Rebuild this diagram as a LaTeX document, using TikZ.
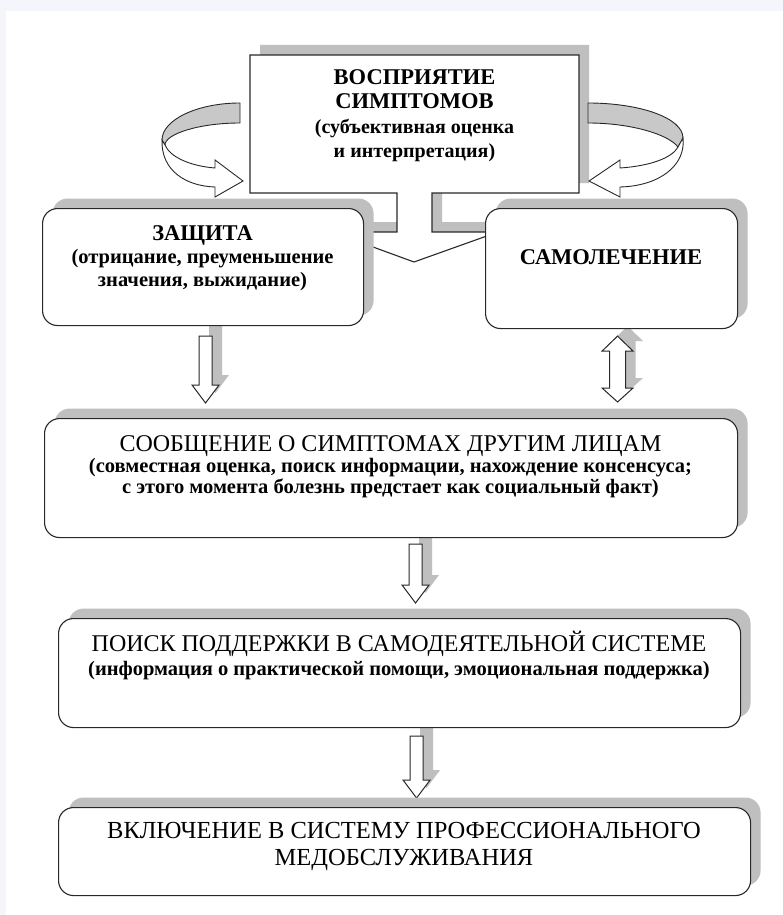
\documentclass[tikz,border=0pt]{standalone}
\usepackage{fontspec}
\setmainfont{Liberation Serif}
\usetikzlibrary{calc}
\definecolor{shadowgray}{RGB}{191,191,191}
\definecolor{ribbon}{RGB}{200,200,200}
\definecolor{edge}{RGB}{40,40,40}
\definecolor{margin}{RGB}{245,246,251}
\pgfdeclarelayer{bg}
\pgfdeclarelayer{back}
\pgfsetlayers{bg,back,main}
\tikzset{stage/.style={draw=edge,line width=1.1pt,fill=white,rounded corners=15pt,
           anchor=north west,inner sep=0pt,
           preaction={fill=shadowgray,draw=none,transform canvas={shift={(10pt,10pt)}}}},
         outline/.style={draw=edge,line width=1pt,fill=white},
         ribbonback/.style={draw=edge,line width=0.9pt,fill=ribbon},
         headtext/.style={anchor=north,align=center,inner sep=0pt,
           font=\bfseries\fontsize{20}{24.5}\selectfont},
         longtext/.style={anchor=north,align=center,inner sep=0pt,
           font=\bfseries\fontsize{20.5}{21}\selectfont}}
\newcommand{\bigcaps}{\fontsize{22.5}{24.5}\selectfont}
\newcommand{\titlefont}{\mdseries\fontsize{24}{24}\selectfont}
% hollow block arrow with its shadow, from #1 down to the tip #2
\newcommand{\hollowdown}[2]{%
  \fill[shadowgray] let \p1=(#1), \p2=(#2) in
    (\x1+3.5pt,\y1+10pt) -- (\x1+16.5pt,\y1+10pt) -- (\x1+16.5pt,\y2+28pt) -- (\x1+23.5pt,\y2+28pt)
    -- (\x2+10pt,\y2+10pt) -- (\x1-3.5pt,\y2+28pt) -- (\x1+3.5pt,\y2+28pt) -- cycle;
  \path[outline] let \p1=(#1), \p2=(#2) in
    (\x1-6.5pt,\y1) -- (\x1+6.5pt,\y1) -- (\x1+6.5pt,\y2+18pt) -- (\x1+13.5pt,\y2+18pt)
    -- (\x2,\y2) -- (\x1-13.5pt,\y2+18pt) -- (\x1-6.5pt,\y2+18pt) -- cycle;}
% the same with a head at both ends, tips #1 and #2
\newcommand{\hollowboth}[2]{%
  \fill[shadowgray] let \p1=(#1), \p2=(#2) in
    (\x1+10pt,\y1+10pt) -- (\x1+25.5pt,\y1-5pt) -- (\x1+18pt,\y1-5pt) -- (\x1+18pt,\y2+24pt)
    -- (\x1+25.5pt,\y2+24pt) -- (\x2+10pt,\y2+10pt) -- (\x1-5.5pt,\y2+24pt) -- (\x1+2pt,\y2+24pt)
    -- (\x1+2pt,\y1-5pt) -- (\x1-5.5pt,\y1-5pt) -- cycle;
  \path[outline] let \p1=(#1), \p2=(#2) in
    (\x1,\y1) -- (\x1+15.5pt,\y1-15pt) -- (\x1+8pt,\y1-15pt) -- (\x1+8pt,\y2+14pt)
    -- (\x1+15.5pt,\y2+14pt) -- (\x2,\y2) -- (\x1-15.5pt,\y2+14pt) -- (\x1-8pt,\y2+14pt)
    -- (\x1-8pt,\y1-15pt) -- (\x1-15.5pt,\y1-15pt) -- cycle;}

\begin{document}
\begin{tikzpicture}[x=1pt,y=-1pt]
  \useasboundingbox (0,0) rectangle (783,915);
  \begin{pgfonlayer}{bg}
    \fill[margin] (0,0) rectangle (783,915);
    \fill[white] (6,11) rectangle (783,915);
  \end{pgfonlayer}

  % the stages
  \node[stage,minimum width=321pt,minimum height=117pt] (defence) at (42,208) {};
  \node[stage,minimum width=252pt,minimum height=120pt] (selfcure) at (485,208) {};
  \node[stage,minimum width=693pt,minimum height=119pt] (telling) at (44,418) {};
  \node[stage,minimum width=682pt,minimum height=109pt] (support) at (58,618) {};
  \node[stage,minimum width=692pt,minimum height=88pt] (medcare) at (58,807) {};

  \node[headtext] (percept) at (414.5,69) {{\bigcaps ВОСПРИЯТИЕ}\\{\bigcaps СИМПТОМОВ}\\
    (субъективная оценка\\и интерпретация)};
  \node[headtext,font=\bfseries\fontsize{20.5}{23}\selectfont] (defencetxt) at (202.5,225)
    {{\bigcaps ЗАЩИТА}\\(отрицание, преуменьшение\\значения, выжидание)};
  \node[headtext] (selfcuretxt) at (611,249) {\bigcaps САМОЛЕЧЕНИЕ};
  \node[longtext] (tellingtxt) at (390.5,435) {{\titlefont СООБЩЕНИЕ О СИМПТОМАХ ДРУГИМ ЛИЦАМ}\\
    (совместная оценка, поиск информации, нахождение консенсуса;\\
    с этого момента болезнь предстает как социальный факт)};
  \node[longtext] (supporttxt) at (399,631) {{\titlefont ПОИСК ПОДДЕРЖКИ В САМОДЕЯТЕЛЬНОЙ СИСТЕМЕ}\\[3pt]
    (информация о практической помощи, эмоциональная поддержка)};
  \node[longtext,font=\mdseries\fontsize{24.5}{27}\selectfont] (medcaretxt) at (404,822)
    {ВКЛЮЧЕНИЕ В СИСТЕМУ ПРОФЕССИОНАЛЬНОГО\\МЕДОБСЛУЖИВАНИЯ};

  \begin{pgfonlayer}{back}
    % perception box with its pointer
    \fill[shadowgray] (260,45) -- (589,45) -- (589,183) -- (442,183) -- (442,222) -- (508,222)
      -- (508,232) -- (332,232) -- (342,222) -- (407,222) -- (407,183) -- (260,183) -- cycle;
    \path[outline,line width=1.1pt] (250,55) -- (579,55) -- (579,193) -- (432,193) -- (432,232)
      -- (498,232) -- (414,262) -- (332,232) -- (397,232) -- (397,193) -- (250,193) -- cycle;
    % turning arrows
    \path[ribbonback] (240,103) .. controls (197,103) and (162,120) .. (162,140)
      -- (165,145) .. controls (165,134) and (199,123) .. (240,123) -- cycle;
    \path[outline,line width=0.9pt] (162,140) .. controls (161,170) and (185,186) .. (215,187)
      -- (215,197) -- (243,181) -- (215,160) -- (215,168)
      .. controls (190,166) and (170,157) .. (165,145) -- cycle;
    \path[ribbonback] (588,103) .. controls (640,103) and (683,118) .. (683,138)
      -- (678,147) .. controls (668,134) and (630,123) .. (588,123) -- cycle;
    \path[outline,line width=0.9pt] (683,138) .. controls (686,165) and (660,186) .. (620,187)
      -- (620,197) -- (589,181) -- (620,160) -- (620,168)
      .. controls (650,166) and (672,158) .. (678,147) -- cycle;
    % block arrows
    \coordinate (d1) at ($(defence.south)+(2.5,10)$);
    \coordinate (d1t) at ($(d1 |- telling.north)+(0,-15)$);
    \hollowdown{d1}{d1t}
    \coordinate (d2) at ($(selfcure.south)+(6,7)$);
    \coordinate (d2t) at ($(d2 |- telling.north)+(0,-16)$);
    \hollowboth{d2}{d2t}
    \coordinate (d3) at ($(telling.south)+(24.5,6)$);
    \coordinate (d3t) at ($(d3 |- support.north)+(0,-15)$);
    \hollowdown{d3}{d3t}
    \coordinate (d4) at ($(support.south)+(17,8)$);
    \coordinate (d4t) at ($(d4 |- medcare.north)+(0,-9)$);
    \hollowdown{d4}{d4t}
  \end{pgfonlayer}
\end{tikzpicture}
\end{document}
